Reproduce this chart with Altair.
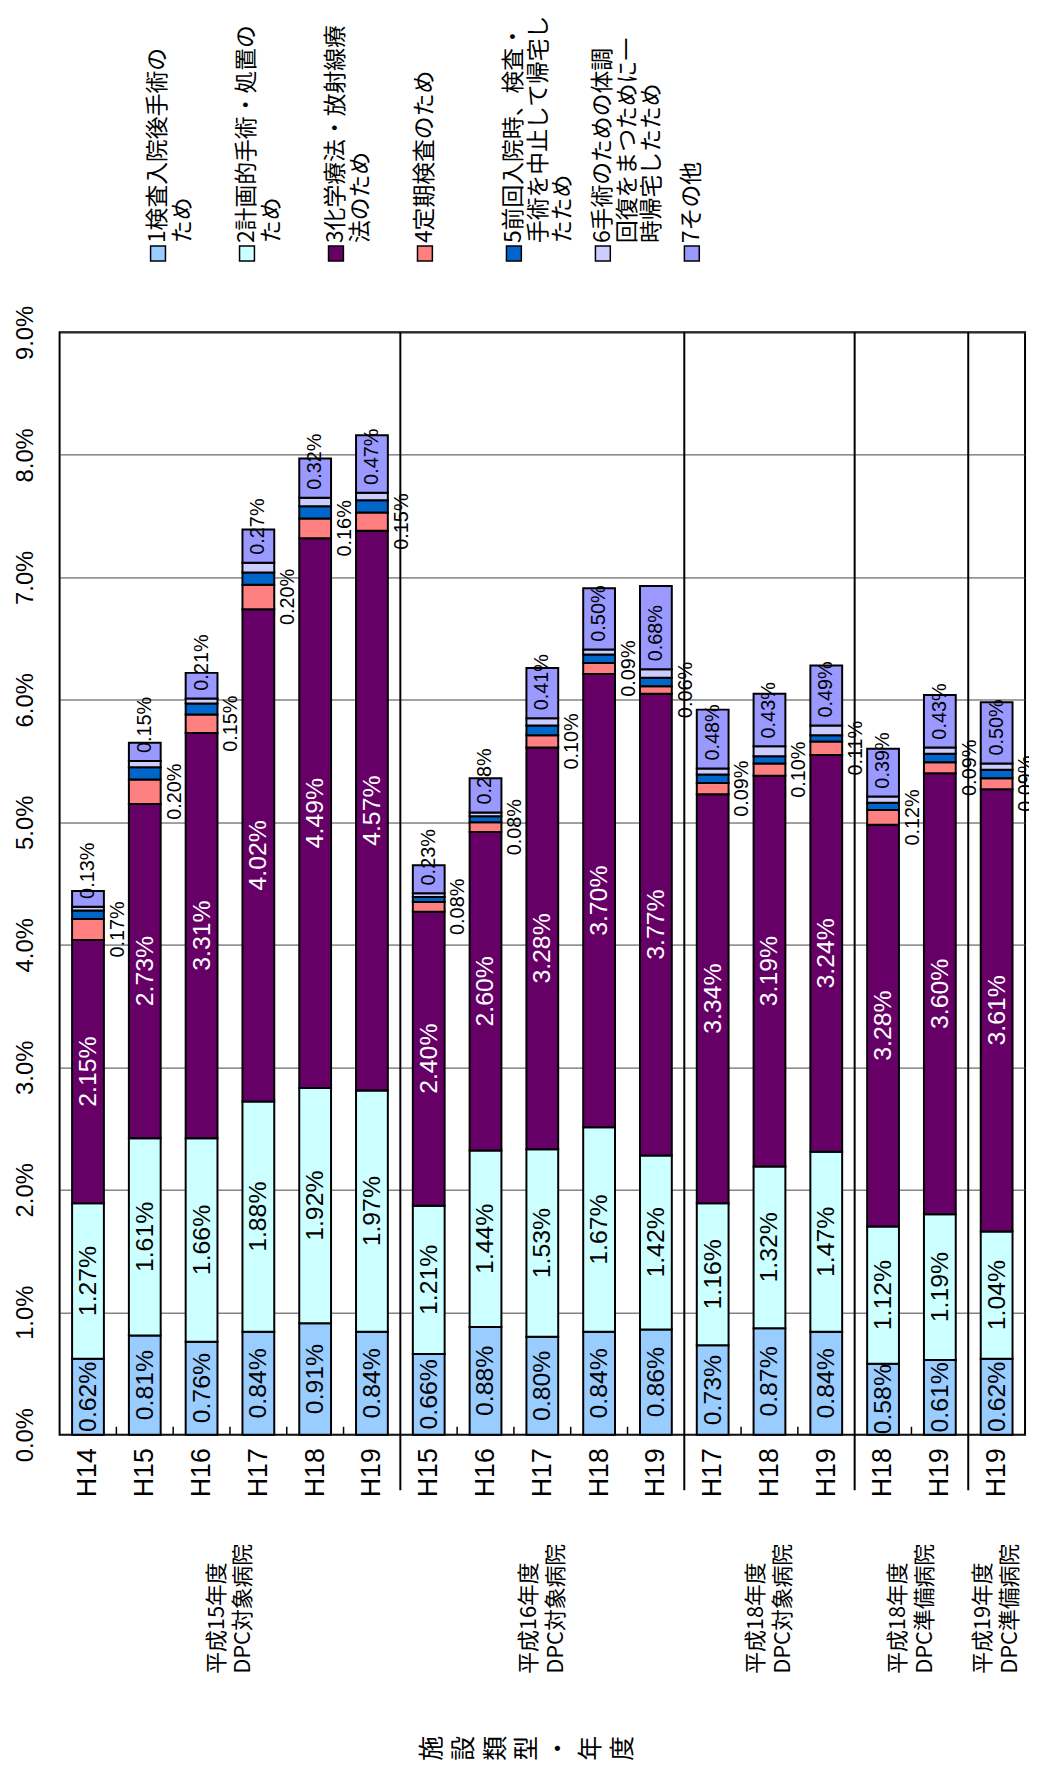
import json
import pandas as pd
import altair as alt

# ---------------- data ----------------
series_names = [
    "1検査入院後手術の\nため",
    "2計画的手術・処置の\nため",
    "3化学療法・放射線療\n法のため",
    "4定期検査のため",
    "5前回入院時、検査・\n手術を中止して帰宅し\nたため",
    "6手術のための体調\n回復をまつために一\n時帰宅したため",
    "7その他",
]
series_colors = ["#99CCFF", "#CCFFFF", "#660066", "#FF8080", "#0066CC", "#CCCCFF", "#9999FF"]

group_names = [
    "平成15年度\nDPC対象病院",
    "平成16年度\nDPC対象病院",
    "平成18年度\nDPC対象病院",
    "平成18年度\nDPC準備病院",
    "平成19年度\nDPC準備病院",
]
group_years = [
    ["H14", "H15", "H16", "H17", "H18", "H19"],
    ["H15", "H16", "H17", "H18", "H19"],
    ["H17", "H18", "H19"],
    ["H18", "H19"],
    ["H19"],
]
axis_title = "施設類型・年度"

s1 = [0.62, 0.81, 0.76, 0.84, 0.91, 0.84, 0.66, 0.88, 0.80, 0.84, 0.86, 0.73, 0.87, 0.84, 0.58, 0.61, 0.62]
s2 = [1.27, 1.61, 1.66, 1.88, 1.92, 1.97, 1.21, 1.44, 1.53, 1.67, 1.42, 1.16, 1.32, 1.47, 1.12, 1.19, 1.04]
s3 = [2.15, 2.73, 3.31, 4.02, 4.49, 4.57, 2.40, 2.60, 3.28, 3.70, 3.77, 3.34, 3.19, 3.24, 3.28, 3.60, 3.61]
s4 = [0.17, 0.20, 0.15, 0.20, 0.16, 0.15, 0.08, 0.08, 0.10, 0.09, 0.06, 0.09, 0.10, 0.11, 0.12, 0.09, 0.09]
s5 = [0.07, 0.10, 0.09, 0.10, 0.10, 0.10, 0.04, 0.05, 0.08, 0.07, 0.07, 0.07, 0.06, 0.05, 0.06, 0.07, 0.07]
s6 = [0.03, 0.05, 0.04, 0.08, 0.07, 0.06, 0.03, 0.03, 0.06, 0.04, 0.07, 0.05, 0.08, 0.08, 0.05, 0.05, 0.05]
s7 = [0.13, 0.15, 0.21, 0.27, 0.32, 0.47, 0.23, 0.28, 0.41, 0.50, 0.68, 0.48, 0.43, 0.49, 0.39, 0.43, 0.50]

y_ticks = [0, 1, 2, 3, 4, 5, 6, 7, 8, 9]

# ---------------- tables ----------------
series_values = [s1, s2, s3, s4, s5, s6, s7]
years = [y for g in group_years for y in g]
group_of = [gi for gi, g in enumerate(group_years) for _ in g]
n = len(years)

rows = []
for i in range(n):
    for k, vals in enumerate(series_values):
        rows.append({"idx": i, "year": years[i], "series": series_names[k], "sidx": k, "value": vals[i]})
df = pd.DataFrame(rows)

starts = []
pos = 0
for g in group_years:
    starts.append(pos)
    pos += len(g)
gdf = pd.DataFrame({
    "name": group_names,
    "center": [s + (len(g) - 1) / 2 for s, g in zip(starts, group_years)],
})
sep_df = pd.DataFrame({"b": [s + len(g) - 0.5 for s, g in zip(starts, group_years)][:-1]})
tick_df = pd.DataFrame({"b": [i + 0.5 for i in range(n - 1) if group_of[i] == group_of[i + 1]]})
leg_df = pd.DataFrame({"series": series_names})
title_df = pd.DataFrame({"t": ["\n".join(axis_title)]})

# ---------------- layout ----------------
W, H = 973, 1111
NUM_FONT = "Liberation Sans Narrow, Liberation Sans, Arial"
JP_FONT = "Noto Sans CJK JP"

xscale = alt.Scale(domain=[-0.5, n - 0.5], nice=False, zero=False)
yscale = alt.Scale(domain=[0, 9], nice=False, zero=True)
cscale = alt.Scale(domain=series_names, range=series_colors)

xaxis = alt.Axis(
    values=list(range(n)),
    labelExpr=json.dumps(years) + "[datum.value]",
    labelAngle=270, labelAlign="right", labelBaseline="middle",
    labelFontSize=27, labelFont=NUM_FONT, labelColor="black", labelPadding=13,
    ticks=False, tickSize=0, domain=False, grid=False,
    labelOverlap=False, labelFlush=False, labelBound=False, title=None,
)
yaxis = alt.Axis(
    values=y_ticks,
    labelExpr="format(datum.value, '.1f') + '%'",
    labelAngle=270, labelAlign="center", labelBaseline="bottom",
    labelFontSize=24, labelFont=NUM_FONT, labelColor="black", labelPadding=22,
    ticks=False, tickSize=0, domain=False, grid=True, gridColor="#444444", gridWidth=1,
    labelOverlap=False, labelFlush=False, title=None,
)

base = (
    alt.Chart(df)
    .transform_window(
        y1="sum(value)", groupby=["idx"],
        sort=[alt.SortField("sidx", order="ascending")], frame=[None, 0],
    )
    .transform_calculate(y0="datum.y1 - datum.value")
    .transform_calculate(ymid="(datum.y0 + datum.y1) / 2")
    .transform_calculate(xlo="datum.idx - 0.28")
    .transform_calculate(xhi="datum.idx + 0.28")
    .transform_calculate(label="format(datum.value, '.2f') + '%'")
)

bars = base.mark_bar(stroke="black", strokeWidth=2).encode(
    x=alt.X("xlo:Q", scale=xscale, axis=xaxis),
    x2="xhi:Q",
    y=alt.Y("y0:Q", scale=yscale, axis=yaxis),
    y2="y1:Q",
    color=alt.Color("series:N", scale=cscale, legend=None),
)


def xl(field):
    return alt.X(field, scale=xscale, title=None)


def yl(field):
    return alt.Y(field, scale=yscale, title=None)


lab12 = base.transform_filter("datum.sidx <= 1").mark_text(
    angle=270, fontSize=25, font=NUM_FONT, color="black"
).encode(x=xl("idx:Q"), y=yl("ymid:Q"), text="label:N")

lab3 = base.transform_filter("datum.sidx == 2").mark_text(
    angle=270, fontSize=25, font=NUM_FONT, color="white"
).encode(x=xl("idx:Q"), y=yl("ymid:Q"), text="label:N")

lab4 = base.transform_filter("datum.sidx == 3").mark_text(
    angle=270, fontSize=20, font=NUM_FONT, color="black", dy=30
).encode(x=xl("idx:Q"), y=yl("ymid:Q"), text="label:N")

lab7 = base.transform_filter("datum.sidx == 6").mark_text(
    angle=270, fontSize=20, font=NUM_FONT, color="black", align="left", dx=8
).encode(x=xl("idx:Q"), y=yl("y0:Q"), text="label:N")

seps = alt.Chart(sep_df).mark_rule(color="black", strokeWidth=2).encode(
    x=xl("b:Q"), y=alt.value(0), y2=alt.value(H + 56)
)
small_ticks = alt.Chart(tick_df).mark_rule(color="black", strokeWidth=1.5).encode(
    x=xl("b:Q"), y=alt.value(H), y2=alt.value(H - 8)
)

glabels = alt.Chart(gdf).mark_text(
    angle=270, align="left", baseline="middle", fontSize=22, lineHeight=27,
    lineBreak="\n", dy=-13.5, font=JP_FONT, color="black",
).encode(x=xl("center:Q"), y=alt.value(H + 241), text="name:N")

title = alt.Chart(title_df).mark_text(
    angle=270, align="center", baseline="middle", fontSize=25, lineHeight=32,
    lineBreak="\n", dy=-96, font=JP_FONT, color="black",
).encode(x=alt.value(W / 2 - 15), y=alt.value(H + 316), text="t:N")

main = alt.layer(bars, lab12, lab3, lab4, lab7, seps, small_ticks, glabels, title)

lx = alt.X(
    "series:N",
    scale=alt.Scale(type="point", domain=series_names, range=[99.2, 637.2], padding=0),
    axis=None,
)
leg_sq = alt.Chart(leg_df).mark_square(size=225, opacity=1, stroke="black", strokeWidth=1.5).encode(
    x=lx, y=alt.value(-79.5), color=alt.Color("series:N", scale=cscale, legend=None)
)
leg_tx = alt.Chart(leg_df).mark_text(
    angle=270, align="left", baseline="middle", fontSize=23, lineHeight=25,
    lineBreak="\n", font=JP_FONT, color="black",
).encode(x=lx, y=alt.value(-90), text="series:N")
legend = alt.layer(leg_sq, leg_tx)

chart = (
    alt.layer(main, legend)
    .resolve_scale(x="independent")
    .properties(
        width=W, height=H,
        autosize=alt.AutoSizeParams(type="none"),
        padding={"left": 52, "top": 320, "right": 4, "bottom": 332},
    )
    .configure_view(stroke="black", strokeWidth=2)
)

chart.save("out.html", embed_options={"renderer": "svg", "actions": False})
